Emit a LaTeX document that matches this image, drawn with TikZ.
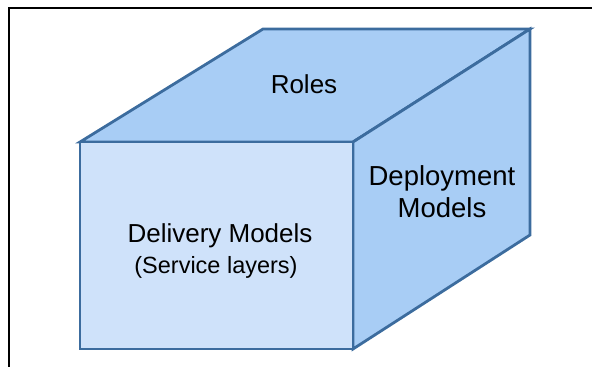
\documentclass[tikz,border=0pt]{standalone}
\usepackage{fontspec}
\setmainfont{Liberation Sans}
\definecolor{edgeblue}{RGB}{60,108,158}
\definecolor{frontfill}{RGB}{207,226,250}
\definecolor{sidefill}{RGB}{168,205,245}
\tikzset{
  face/.style={draw=edgeblue, line width=2.8pt, line join=miter},
  label/.style={anchor=base, inner sep=0pt, font=\fontsize{26}{30}\selectfont},
  biglabel/.style={anchor=base, inner sep=0pt, font=\fontsize{27.5}{32}\selectfont},
  sublabel/.style={anchor=base, inner sep=0pt, font=\fontsize{23.5}{28}\selectfont},
  frame/.style={draw=black, line width=1.4pt}
}
\begin{document}
\begin{tikzpicture}[x=1pt, y=-1pt]
  \useasboundingbox (0,0) rectangle (592,367);
  % page frame (top and left edges)
  \coordinate (fTR) at (592,8);
  \coordinate (fTL) at (9,8);
  \coordinate (fBL) at (9,367);
  \draw[frame] (fTR) -- (fTL) -- (fBL);
  % cube corners
  \coordinate (A) at (80,142);   % front top left
  \coordinate (B) at (353,142);  % front top right
  \coordinate (C) at (353,349);  % front bottom right
  \coordinate (D) at (80,349);   % front bottom left
  \coordinate (E) at (263,29);   % back top left
  \coordinate (F) at (530,29);   % back top right
  \coordinate (G) at (530,235);  % back bottom right
  % faces
  \draw[face, fill=sidefill] (A) -- (E) -- (F) -- (B) -- cycle;
  \draw[face, fill=sidefill] (B) -- (F) -- (G) -- (C) -- cycle;
  \draw[face, fill=frontfill] (A) -- (B) -- (C) -- (D) -- cycle;
  % face labels
  \node[label] (roles) at (304,93) {Roles};
  \node[biglabel] (dep1) at (442,185) {Deployment};
  \node[biglabel] (dep2) at (442,217) {Models};
  \node[label] (del1) at (220,242) {Delivery Models};
  \node[sublabel] (del2) at (216,273) {(Service layers)};
\end{tikzpicture}
\end{document}
